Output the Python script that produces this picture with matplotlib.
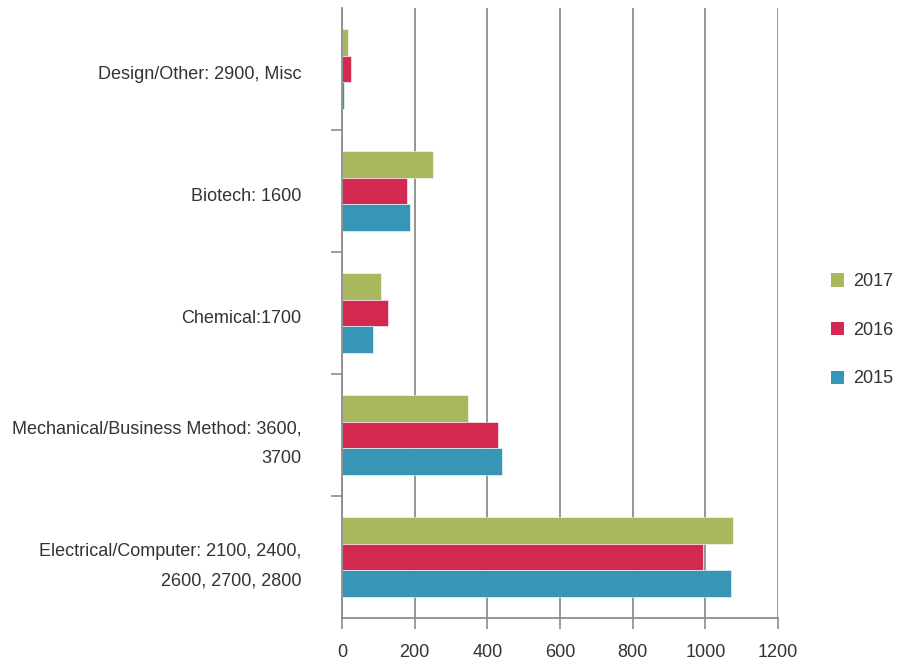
import numpy as np
import matplotlib.pyplot as plt
import matplotlib.transforms as mtransforms
from matplotlib.patches import Patch

categories = [
    "Electrical/Computer: 2100, 2400,\n2600, 2700, 2800",
    "Mechanical/Business Method: 3600,\n3700",
    "Chemical:1700",
    "Biotech: 1600",
    "Design/Other: 2900, Misc",
]
years = ["2017", "2016", "2015"]
vals_2017 = [1075, 346, 107, 250, 17]
vals_2016 = [993, 430, 128, 178, 26]
vals_2015 = [1072, 441, 85, 187, 5]
xticks = [0, 200, 400, 600, 800, 1000, 1200]

colors = {"2017": "#a9b85e", "2016": "#d32950", "2015": "#3795b5"}
grey = "#8c8c8c"
txt = "#333333"

plt.rcParams["font.family"] = ["Liberation Sans", "DejaVu Sans"]

fig = plt.figure(figsize=(9.11, 6.62), dpi=100)
ax = fig.add_axes([0.3754, 0.0665, 0.4786, 0.9215])

y = np.arange(len(categories))
h = 0.22
series = {"2017": vals_2017, "2016": vals_2016, "2015": vals_2015}
offsets = {"2017": h, "2016": 0.0, "2015": -h}
for yr in years:
    ax.barh(y + offsets[yr], series[yr], height=h, color=colors[yr],
            edgecolor="white", linewidth=0.4, zorder=3)

ax.set_xlim(0, 1200)
ax.set_ylim(-0.5, len(categories) - 0.5)
ax.set_xticks(xticks)
ax.set_xticklabels([str(t) for t in xticks])
ax.set_yticks(y)
ax.set_yticklabels(categories, linespacing=1.95, ha="right")
ax.set_yticks(np.arange(len(categories) - 1) + 0.5, minor=True)
ax.tick_params(axis="y", which="major", length=0, pad=29, labelsize=13,
               labelcolor=txt)
ax.tick_params(axis="y", which="minor", length=8, width=1.2, color=grey)
ax.tick_params(axis="x", length=8, width=1.2, color=grey, pad=11,
               labelsize=13, labelcolor=txt)

# single-line labels sit a touch below the group centre in the original
for lab in ax.get_yticklabels():
    dy = -4 if "\n" not in lab.get_text() else -1
    shift = mtransforms.ScaledTranslation(0, dy / 100, fig.dpi_scale_trans)
    lab.set_transform(lab.get_transform() + shift)

ax.grid(axis="x", color=grey, linewidth=1.3, zorder=0)
ax.set_axisbelow(True)
for s in ["top", "right"]:
    ax.spines[s].set_visible(False)
for s in ["left", "bottom"]:
    ax.spines[s].set_color(grey)
    ax.spines[s].set_linewidth(1.3)
ax.spines["left"].set_zorder(4)

handles = [Patch(facecolor=colors[yr], label=yr) for yr in years]
fig.legend(handles=handles, loc="center left", bbox_to_anchor=(0.912, 0.501),
           frameon=False, fontsize=13, labelspacing=1.75,
           handlelength=0.75, handleheight=0.75, handletextpad=0.5,
           labelcolor=txt, borderaxespad=0, borderpad=0)

fig.savefig("out.png", dpi=100)
